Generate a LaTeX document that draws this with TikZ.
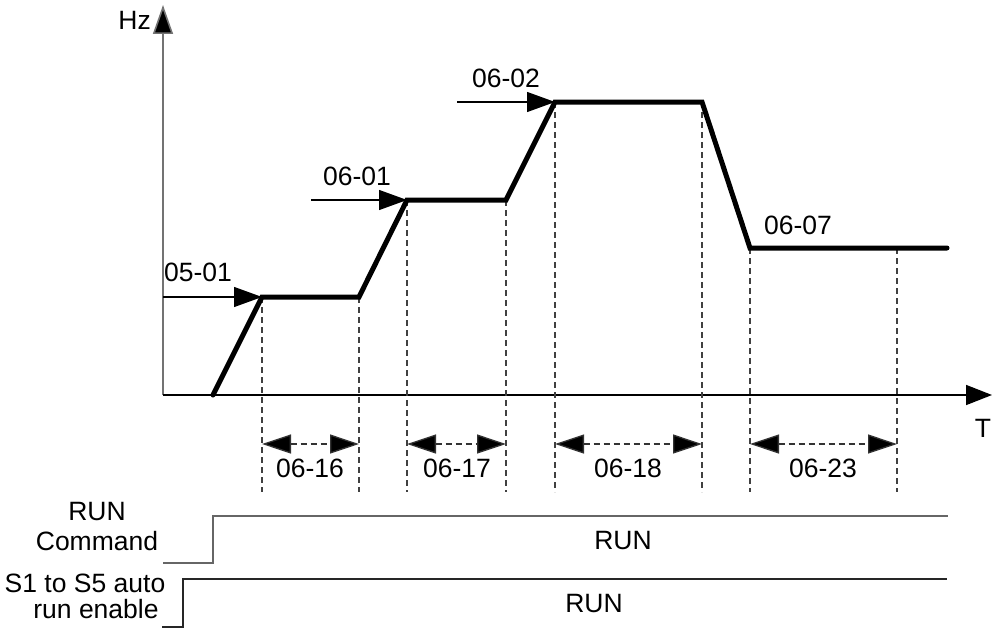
\documentclass[tikz,border=0pt]{standalone}
\usepackage{fontspec}
\setmainfont{Liberation Sans}
\usetikzlibrary{arrows.meta}
\begin{document}
\begin{tikzpicture}[x=1pt,y=-1pt,
  lbl/.style={font=\fontsize{26.5}{30}\selectfont, inner sep=0pt, anchor=center},
  profile/.style={line width=5pt, line join=miter, line cap=round},
  refarr/.style={line width=1.3pt, -{Triangle[length=28pt,width=20pt]}},
  axisx/.style={line width=1.6pt, -{Triangle[length=26pt,width=20pt]}},
  axisy/.style={line width=1.6pt, draw=black!55, -{Triangle[length=29pt,width=20pt,fill=black]}},
  guide/.style={line width=1.1pt, draw=black!75, dash pattern=on 6pt off 4pt},
  dimarr/.style={line width=1.3pt, draw=black!80, dash pattern=on 6pt off 4pt,
    {Triangle[length=29pt,width=19pt,fill=black]}-{Triangle[length=29pt,width=19pt,fill=black]}},
  sig/.style={line width=1.4pt}
]
\useasboundingbox (0,0) rectangle (992,634);

% key levels
\coordinate (org) at (163,395);
\coordinate (bot) at (0,492);
\coordinate (arr) at (0,444);

% axes
\draw[axisy] (org) -- (163,5) coordinate (ytip);
\draw[axisx] (org) -- (992,395) coordinate (xtip);
\node[lbl, anchor=east] (hz) at (151,20) {Hz};
\node[lbl] (tl) at (983,428) {T};

% profile points
\coordinate (p0) at (213,395);
\coordinate (p1) at (262,297);
\coordinate (p2) at (359,297);
\coordinate (p3) at (407,200);
\coordinate (p4) at (506,200);
\coordinate (p5) at (555,102);
\coordinate (p6) at (702,102);
\coordinate (p7) at (750,248);
\coordinate (p8) at (897,248);
\coordinate (p9) at (947,248);

% guides
\foreach \p in {p1,p2,p3,p4,p5,p6,p7,p8}
  \draw[guide] (\p) -- (\p |- bot);

\draw[profile] (p0) -- (p1) -- (p2) -- (p3) -- (p4) -- (p5) -- (p6) -- (p7) -- (p9);

% reference arrows
\coordinate (r1) at (163,297);
\coordinate (r2) at (311,200);
\coordinate (r3) at (457,102);
\draw[refarr] (r1) -- (p1);
\draw[refarr] (r2) -- (p3);
\draw[refarr] (r3) -- (p5);
\node[lbl] (l0501) at (198,272) {05-01};
\node[lbl] (l0601) at (357,176) {06-01};
\node[lbl] (l0602) at (506,78) {06-02};
\node[lbl] (l0607) at (798,225) {06-07};

% dimension arrows
\draw[dimarr] (p1 |- arr) -- (p2 |- arr);
\draw[dimarr] (p3 |- arr) -- (p4 |- arr);
\draw[dimarr] (p5 |- arr) -- (p6 |- arr);
\draw[dimarr] (p7 |- arr) -- (p8 |- arr);
\node[lbl] (l0616) at (310,468) {06-16};
\node[lbl] (l0617) at (457,468) {06-17};
\node[lbl] (l0618) at (628,468) {06-18};
\node[lbl] (l0623) at (823,468) {06-23};

% signals
\coordinate (c0) at (163,563);
\coordinate (c1) at (213,563);
\coordinate (c2) at (213,516);
\coordinate (c3) at (948,516);
\draw[sig, draw=black!60] (c0) -- (c1) -- (c2) -- (c3);
\coordinate (s0) at (162,627);
\coordinate (s1) at (183,627);
\coordinate (s2) at (183,579);
\coordinate (s3) at (947,579);
\draw[sig, draw=black!85] (s0) -- (s1) -- (s2) -- (s3);
\node[lbl] (run1) at (623,541) {RUN};
\node[lbl] (run2) at (594,604) {RUN};
\node[lbl] (cmd1) at (97,512) {RUN};
\node[lbl] (cmd2) at (97,541) {Command};
\node[lbl] (en1) at (85,583) {S1 to S5 auto};
\node[lbl] (en2) at (96,609) {run enable};
\end{tikzpicture}
\end{document}
